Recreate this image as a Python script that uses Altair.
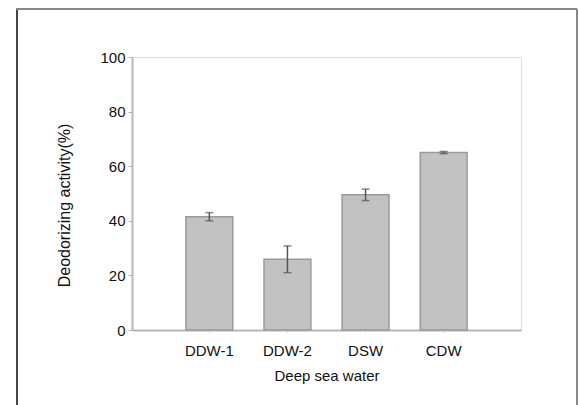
import altair as alt
import pandas as pd

categories = ["DDW-1", "DDW-2", "DSW", "CDW"]
values = [41.5, 25.9, 49.5, 65.0]
errors = [1.5, 4.9, 2.1, 0.4]

df = pd.DataFrame({"water": categories, "activity": values, "err": errors})
df["lo"] = df["activity"] - df["err"]
df["hi"] = df["activity"] + df["err"]

FONT = "Liberation Sans"
FS = 15

x_enc = alt.X(
    "water:N",
    sort=categories,
    title="Deep sea water",
    scale=alt.Scale(paddingInner=0.4, paddingOuter=0.69),
    axis=alt.Axis(labelAngle=0, labelFont=FONT, titleFont=FONT, labelFontSize=FS,
                  labelPadding=10, titleFontSize=FS, titlePadding=10,
                  titleFontWeight="normal", tickSize=3,
                  tickColor="#e6e6e6", domainColor="#b5b5b5", domainWidth=2,
                  labelColor="#111111", titleColor="#111111"),
)
y_scale = alt.Scale(domain=[0, 100])

bars = alt.Chart(df).mark_bar(color="#c2c2c2", stroke="#9a9a9a", strokeWidth=1.5).encode(
    x=x_enc,
    y=alt.Y("activity:Q", scale=y_scale, title="Deodorizing activity(%)",
            axis=alt.Axis(values=[0, 20, 40, 60, 80, 100], grid=False,
                          labelFont=FONT, titleFont=FONT, labelFontSize=FS,
                          labelPadding=3, tickSize=4, tickColor="#b5b5b5",
                          domainColor="#b5b5b5", domainWidth=2, titleFontSize=16,
                          titlePadding=27, titleFontWeight="normal", titleY=148,
                          labelColor="#111111", titleColor="#111111")),
)

rules = alt.Chart(df).mark_rule(color="#555555", strokeWidth=1.5).encode(
    x=alt.X("water:N", sort=categories),
    y=alt.Y("lo:Q", scale=y_scale),
    y2="hi:Q",
)
caps_hi = alt.Chart(df).mark_tick(color="#555555", thickness=1.5, size=8).encode(
    x=alt.X("water:N", sort=categories), y=alt.Y("hi:Q", scale=y_scale)
)
caps_lo = alt.Chart(df).mark_tick(color="#555555", thickness=1.5, size=8).encode(
    x=alt.X("water:N", sort=categories), y=alt.Y("lo:Q", scale=y_scale)
)

frame_left = alt.Chart(df).mark_rule(color="#444444", strokeWidth=2).encode(
    x=alt.value(-115), y=alt.value(-48), y2=alt.value(360)
)
frame_top = alt.Chart(df).mark_rule(color="#888888", strokeWidth=2).encode(
    x=alt.value(-116), x2=alt.value(445), y=alt.value(-48)
)
frame_right = alt.Chart(df).mark_rule(color="#888888", strokeWidth=2).encode(
    x=alt.value(445), y=alt.value(-48), y2=alt.value(360)
)

chart = alt.layer(bars, rules, caps_hi, caps_lo, frame_left, frame_top, frame_right).properties(
    width=389, height=273,
    autosize=alt.AutoSizeParams(type="none"),
    padding={"left": 132, "top": 57, "right": 58, "bottom": 75},
).configure_view(
    stroke="#b5b5b5", strokeWidth=2
).configure(background="white")

chart.save("out.html", embed_options={"renderer": "svg", "actions": False})
